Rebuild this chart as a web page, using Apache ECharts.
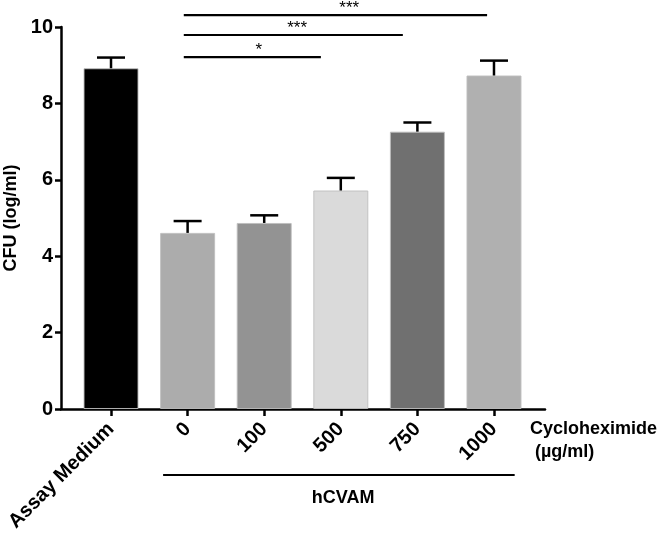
<!DOCTYPE html>
<html>
<head>
<meta charset="utf-8">
<script src="https://cdn.jsdelivr.net/npm/echarts@6/dist/echarts.min.js"></script>
<style>html,body{margin:0;padding:0;background:#fff}#c{width:666px;height:537px}</style>
</head>
<body>
<div id="c"></div>
<script>
// ---- data ----
var categories = ['Assay Medium', '0', '100', '500', '750', '1000'];
var means = [8.92, 4.61, 4.87, 5.72, 7.26, 8.73];
var errors = [0.28, 0.31, 0.20, 0.33, 0.24, 0.39];
var barColors = ['#000000', '#acacac', '#939393', '#dadada', '#707070', '#b0b0b0'];
var yTicks = [0, 2, 4, 6, 8, 10];
// significance brackets
var sigStart = [0.95, 0.95, 0.95];
var sigEnd = [2.74, 3.81, 4.91];
var sigLevel = [9.21, 9.79, 10.31];
var sigStarX = [1.93, 2.43, 3.11];
var sigLabels = ['*', '***', '***'];
// group bracket below axis
var groupStart = 0.68, groupEnd = 5.27, groupLevel = -1.73, groupLabelX = 3.03;
var groupLabel = 'hCVAM';
var xAxisTitle = 'Cycloheximide';
var xAxisUnit = ' (\u00b5g/ml)';
var yAxisTitle = 'CFU (log/ml)';

var chart = echarts.init(document.getElementById('c'), null, {renderer: 'canvas'});
var FONT = 'Liberation Sans, Arial, Helvetica, sans-serif';
var idx = categories.map(function (_, i) { return i; });

var barData = means.map(function (v, i) {
  return {value: [i, v], itemStyle: {color: barColors[i]}};
});
var errData = means.map(function (v, i) { return [i, v, v + errors[i]]; });
var sigData = sigStart.map(function (s, i) { return [s, sigEnd[i], sigLevel[i], sigStarX[i], i]; });

chart.setOption({
  animation: false,
  backgroundColor: '#fff',
  grid: {left: 61, right: 121, top: 27, bottom: 128, containLabel: false, outerBoundsMode: 'none'},
  xAxis: {
    type: 'value', min: -0.653, max: 5.666,
    splitLine: {show: false},
    axisLine: {show: true, onZero: false, lineStyle: {color: '#000', width: 2.5}},
    axisTick: {show: true, customValues: idx, length: 7, lineStyle: {color: '#000', width: 2.5}},
    axisLabel: {
      customValues: idx, rotate: 45, margin: 17,
      formatter: function (v) { return categories[Math.round(v)]; },
      color: '#000', fontFamily: FONT, fontWeight: 'bold', fontSize: 20
    }
  },
  yAxis: {
    type: 'value', min: 0, max: 10, interval: 2,
    name: yAxisTitle, nameLocation: 'middle', nameGap: 38,
    nameTextStyle: {color: '#000', fontFamily: FONT, fontWeight: 'bold', fontSize: 18},
    splitLine: {show: false},
    axisLine: {show: true, onZero: false, lineStyle: {color: '#000', width: 2.5}},
    axisTick: {show: true, length: 6, lineStyle: {color: '#000', width: 2.5}},
    axisLabel: {
      margin: 8, color: '#000', fontFamily: FONT, fontWeight: 'bold', fontSize: 20
    }
  },
  series: [
    {
      type: 'bar', data: barData, barWidth: 55,
      itemStyle: {borderColor: 'rgba(190,190,190,0.9)', borderWidth: 1},
      z: 2
    },
    {
      type: 'custom', data: errData, z: 3,
      renderItem: function (params, api) {
        var x = api.value(0);
        var p0 = api.coord([x, api.value(1)]);
        var p1 = api.coord([x, api.value(2)]);
        var hw = 14;
        return {
          type: 'group', children: [
            {type: 'line', shape: {x1: p0[0], y1: p0[1], x2: p1[0], y2: p1[1]}, style: {stroke: '#000', lineWidth: 2.5}},
            {type: 'line', shape: {x1: p1[0] - hw, y1: p1[1], x2: p1[0] + hw, y2: p1[1]}, style: {stroke: '#000', lineWidth: 2.5}}
          ]
        };
      }
    },
    {
      type: 'custom', data: sigData, clip: false, z: 4,
      renderItem: function (params, api) {
        var a = api.coord([api.value(0), api.value(2)]);
        var b = api.coord([api.value(1), api.value(2)]);
        var s = api.coord([api.value(3), api.value(2)]);
        return {
          type: 'group', children: [
            {type: 'line', shape: {x1: a[0], y1: a[1], x2: b[0], y2: b[1]}, style: {stroke: '#000', lineWidth: 2.2}},
            {type: 'text', style: {x: s[0], y: s[1] + 2, text: sigLabels[api.value(4)], textAlign: 'center', textVerticalAlign: 'bottom',
              fill: '#000', font: '17px ' + FONT}}
          ]
        };
      }
    },
    {
      type: 'custom', data: [[groupStart, groupEnd, groupLevel, groupLabelX]], clip: false, z: 4,
      renderItem: function (params, api) {
        var a = api.coord([api.value(0), api.value(2)]);
        var b = api.coord([api.value(1), api.value(2)]);
        var t = api.coord([api.value(3), api.value(2)]);
        return {
          type: 'group', children: [
            {type: 'line', shape: {x1: a[0], y1: a[1], x2: b[0], y2: b[1]}, style: {stroke: '#000', lineWidth: 2}},
            {type: 'text', style: {x: t[0], y: a[1] + 14, text: groupLabel, textAlign: 'center', textVerticalAlign: 'top',
              fill: '#000', font: 'bold 18px ' + FONT}}
          ]
        };
      }
    }
  ],
  graphic: [
    {type: 'text', left: 530, top: 420, style: {text: xAxisTitle, fill: '#000', font: 'bold 18px ' + FONT}},
    {type: 'text', left: 530, top: 443, style: {text: xAxisUnit, fill: '#000', font: 'bold 18px ' + FONT}}
  ]
});
</script>
</body>
</html>
